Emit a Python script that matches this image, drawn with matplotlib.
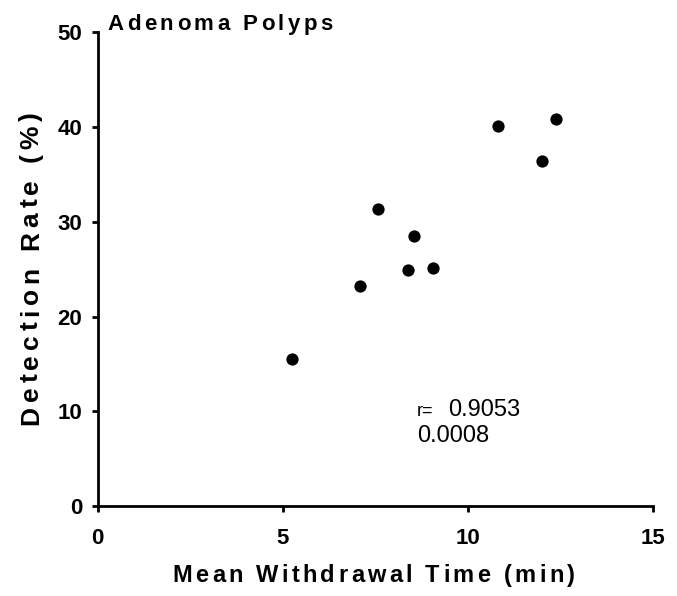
import matplotlib
matplotlib.use("Agg")
import matplotlib.pyplot as plt
from matplotlib import font_manager
from matplotlib.font_manager import FontProperties
from matplotlib.ft2font import FT2Font
from matplotlib.transforms import ScaledTranslation

# Mean withdrawal time vs adenoma detection rate, one point per endoscopist
withdrawal_min = [5.26, 7.09, 7.58, 8.39, 8.55, 9.06, 10.81, 12.02, 12.38]
detection_pct = [15.5, 23.2, 31.3, 24.9, 28.5, 25.1, 40.1, 36.4, 40.9]

x_ticks = [0, 5, 10, 15]
y_ticks = [0, 10, 20, 30, 40, 50]

title = "Adenoma Polyps"
x_label = "Mean Withdrawal Time (min)"
y_label = "Detection Rate (%)"
r_value = "0.9053"
p_value = "0.0008"

plt.rcParams["font.family"] = ["Liberation Sans", "DejaVu Sans"]

fig = plt.figure(figsize=(6.77, 5.96), dpi=100)
ax = fig.add_axes([0.1443, 0.151, 0.8198, 0.7948])

ax.scatter(withdrawal_min, detection_pct, s=78, color="black", zorder=3, linewidths=0)

ax.set_xlim(0, 15)
ax.set_ylim(0, 50)
ax.set_xticks(x_ticks)
ax.set_yticks(y_ticks)
for side in ["top", "right"]:
    ax.spines[side].set_visible(False)
for side in ["left", "bottom"]:
    ax.spines[side].set_linewidth(2.0)
ax.tick_params(axis="both", width=2.0, length=4.5, labelsize=16)
ax.tick_params(axis="x", pad=11)
ax.tick_params(axis="y", pad=6.5)
for lab in ax.get_xticklabels() + ax.get_yticklabels():
    lab.set_fontweight("bold")

# r / p annotation
ax.text(8.63, 9.49, "r=", fontsize=13)
ax.text(9.47, 9.49, r_value, fontsize=17)
ax.text(8.63, 6.75, p_value, fontsize=17)

# letter-spaced bold text, drawn glyph by glyph
bold_path = font_manager.findfont(FontProperties(family="Liberation Sans", weight="bold"))


def spaced_text(x, y, text, size, track, rotation=0):
    ft = FT2Font(bold_path)
    ft.set_size(size, 72)
    adv = [ft.load_char(ord(c)).linearHoriAdvance / 65536 for c in text]
    total = sum(adv) + track * (len(text) - 1)
    pen = -total / 2
    for ch, a in zip(text, adv):
        if rotation == 0:
            off = ScaledTranslation(pen / 72, 0, fig.dpi_scale_trans)
        else:
            off = ScaledTranslation(0, pen / 72, fig.dpi_scale_trans)
        if ch != " ":
            fig.text(x, y, ch, transform=fig.transFigure + off, fontsize=size,
                     fontweight="bold", ha="left", va="baseline",
                     rotation=rotation, rotation_mode="anchor")
        pen += a + track


spaced_text(0.325, 0.9505, title, 16, 2.5)
spaced_text(0.5517, 0.0235, x_label, 17, 2.4)
spaced_text(0.0561, 0.5495, y_label, 19, 3.4, rotation=90)

fig.savefig("out.png", dpi=100)
